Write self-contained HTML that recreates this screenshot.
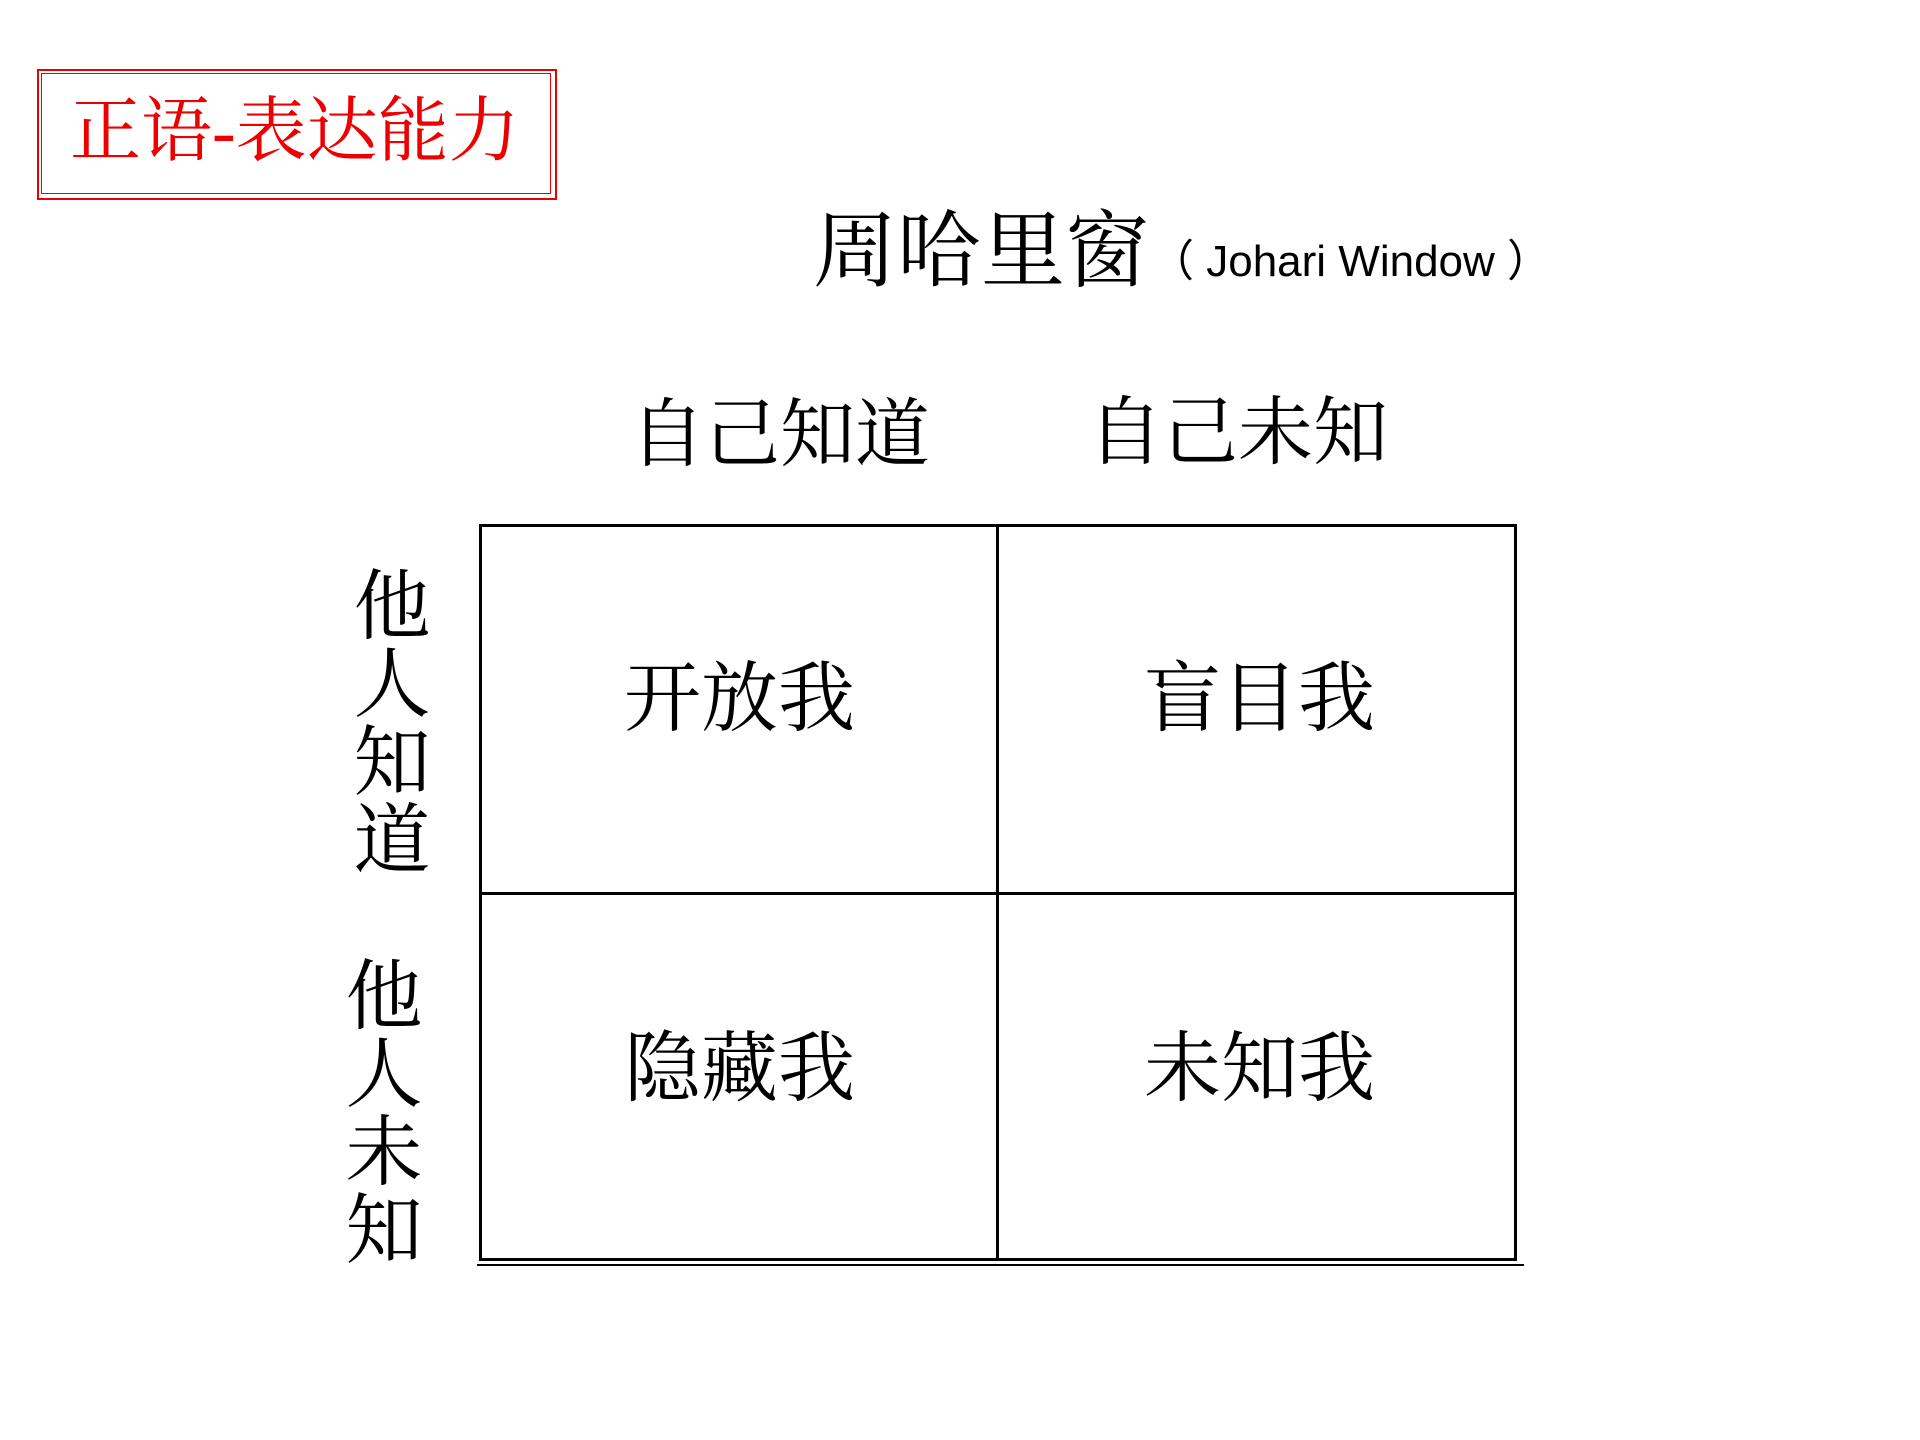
<!DOCTYPE html>
<html><head><meta charset="utf-8"><style>
html,body{margin:0;padding:0;background:#fff;}
body{width:1920px;height:1440px;position:relative;overflow:hidden;font-family:"Liberation Serif","Noto Serif CJK SC",serif;color:#000;}
.a{position:absolute;white-space:nowrap;line-height:1;}
.box{position:absolute;left:37px;top:69px;width:516px;height:127px;border:2px solid #e00;}
.box2{position:absolute;left:41px;top:73px;width:508px;height:119px;border:1px solid #e00;}
.h{position:absolute;background:#000;}
.cell{font-size:77px;}
.v{font-size:77px;width:80px;line-height:78px;white-space:normal;text-align:center;}
</style></head><body>
<div class="box"></div><div class="box2"></div>
<div class="a" style="left:70px;top:97px;font-size:71px;color:#e00;">正语-表达能力</div>
<div class="a" style="left:813px;top:211px;font-size:84px;">周哈里窗</div>
<div class="a" style="left:1150px;top:240px;font-size:44px;font-family:'Liberation Sans','Noto Sans CJK SC',sans-serif;">（ Johari Window ）</div>
<div class="a" style="left:630px;top:398px;font-size:75px;">自己知道</div>
<div class="a" style="left:1088px;top:396px;font-size:75px;">自己未知</div>
<div class="h" style="left:479px;top:524px;width:1038px;height:3px;"></div>
<div class="h" style="left:479px;top:892px;width:1038px;height:3px;"></div>
<div class="h" style="left:479px;top:1258px;width:1038px;height:3px;"></div>
<div class="h" style="left:477px;top:1264px;width:1047px;height:2px;"></div>
<div class="h" style="left:479px;top:524px;width:3px;height:737px;"></div>
<div class="h" style="left:996px;top:524px;width:3px;height:737px;"></div>
<div class="h" style="left:1514px;top:524px;width:3px;height:737px;"></div>
<div class="a v" style="left:352px;top:568px;">他人知道</div>
<div class="a v" style="left:344px;top:958px;">他人未知</div>
<div class="a cell" style="left:624px;top:661px;">开放我</div>
<div class="a cell" style="left:1144px;top:661px;">盲目我</div>
<div class="a cell" style="left:624px;top:1031px;">隐藏我</div>
<div class="a cell" style="left:1144px;top:1031px;">未知我</div>
</body></html>
